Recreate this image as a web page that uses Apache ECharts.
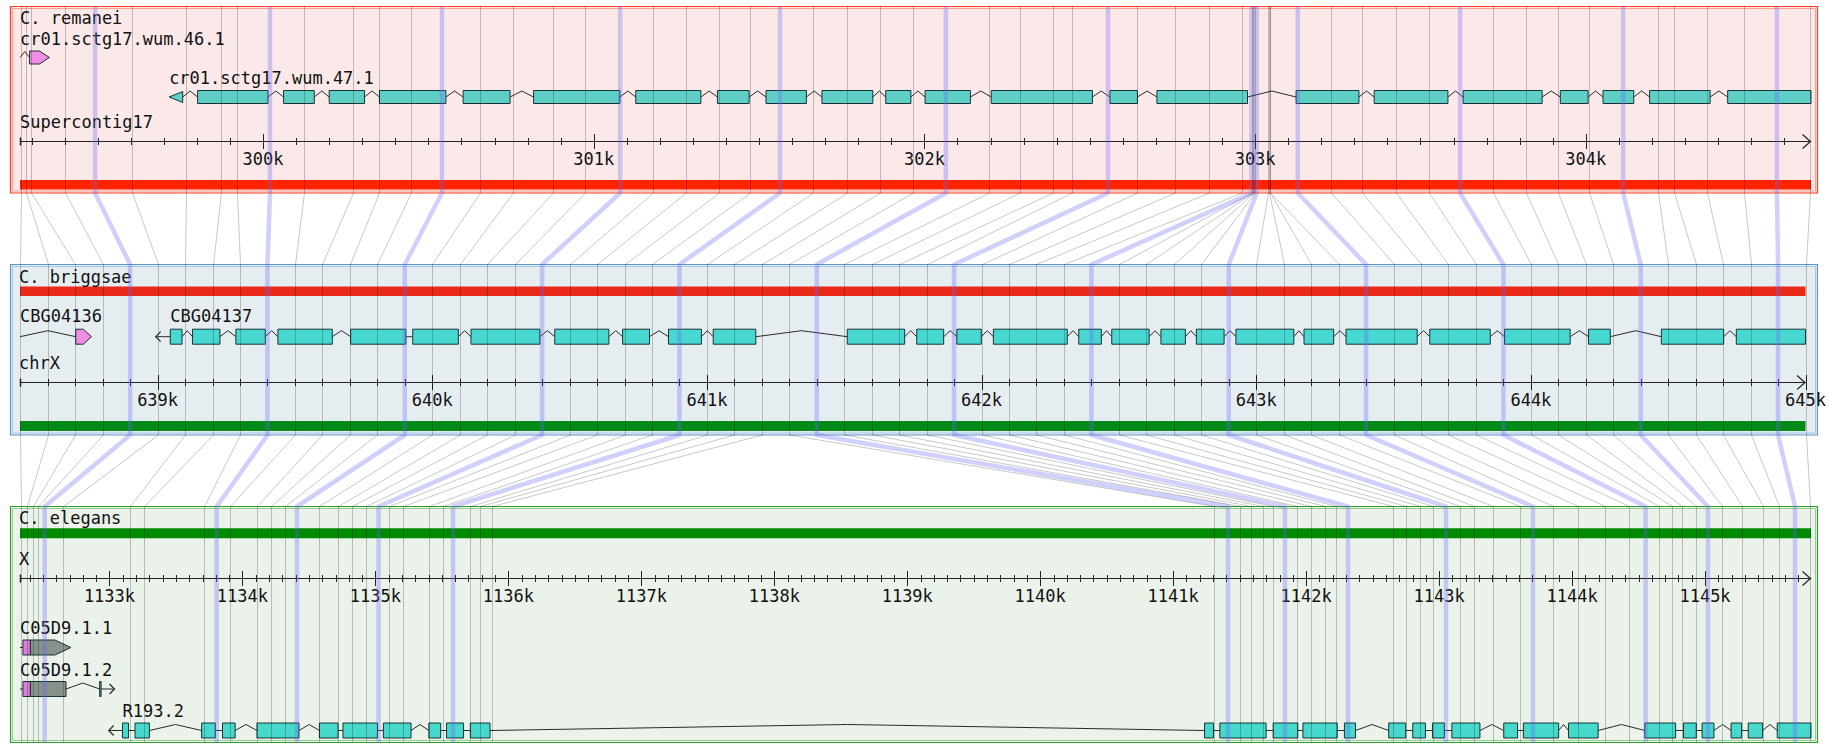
<!DOCTYPE html>
<html><head><meta charset="utf-8">
<script src="https://cdn.jsdelivr.net/npm/echarts@6/dist/echarts.min.js"></script>
<style>html,body{margin:0;padding:0;background:#fff}#c{width:1829px;height:745px}</style>
</head><body><div id="c"></div>
<script>
// ================= DATA =================
// C. remanei – Supercontig17
const remaneiRange = [299265, 304681];
const remaneiTicks = [300000, 301000, 302000, 303000, 304000];
const remaneiTickLabels = ['300k', '301k', '302k', '303k', '304k'];
const remGene46Name = 'cr01.sctg17.wum.46.1';
const remGene46Lead = [299265, 299294];
const remGene46Exons = [[299294, 299354]];
const remGene47Name = 'cr01.sctg17.wum.47.1';
const remGene47Arrow = [299716, 299757];
const remGene47Exons = [[299802,300015],[300062,300155],[300200,300307],[300352,300553],[300605,300747],[300818,301079],[301127,301324],[301374,301470],[301521,301643],[301690,301844],[301883,301959],[302002,302139],[302202,302508],[302561,302644],[302703,302977],[303124,303314],[303360,303583],[303629,303868],[303923,304007],[304052,304145],[304193,304376],[304429,304681]];

// C. briggsae – chrX
const briggsaeRange = [638499, 645000];
const briggsaeTicks = [639000, 640000, 641000, 642000, 643000, 644000, 645000];
const briggsaeTickLabels = ['639k', '640k', '641k', '642k', '643k', '644k', '645k'];
const cbg04136Name = 'CBG04136';
const cbg04136Lead = [638499, 638702];
const cbg04136Exons = [[638702, 638759]];
const cbg04137Name = 'CBG04137';
const cbg04137Arrow = [638993, 639046];
const cbg04137Exons = [[639046,639089],[639127,639227],[639285,639392],[639438,639636],[639703,639904],[639929,640095],[640141,640392],[640446,640643],[640693,640791],[640860,640980],[641023,641178],[641511,641720],[641764,641862],[641910,641999],[642043,642312],[642354,642436],[642474,642610],[642653,642742],[642782,642883],[642926,643137],[643174,643282],[643327,643586],[643632,643852],[643904,644143],[644210,644289],[644475,644702],[644748,645000]];

// C. elegans – X
const elegansRange = [1132327, 1145797];
const elegansTicks = [1133000,1134000,1135000,1136000,1137000,1138000,1139000,1140000,1141000,1142000,1143000,1144000,1145000];
const elegansTickLabels = ['1133k','1134k','1135k','1136k','1137k','1138k','1139k','1140k','1141k','1142k','1143k','1144k','1145k'];
const c05d911Name = 'C05D9.1.1';
const c05d911Lead = [1132327, 1132349];
const c05d911Exons = [[1132349, 1132405], [1132405, 1132710]];
const c05d912Name = 'C05D9.1.2';
const c05d912Lead = [1132327, 1132349];
const c05d912Exons = [[1132349, 1132405], [1132405, 1132673], [1132926, 1132937]];
const c05d912Arrow = [1132937, 1133038];
const r1932Name = 'R193.2';
const r1932Arrow = [1132994, 1133098];
const r1932Exons = [[1133098,1133143],[1133192,1133300],[1133693,1133796],[1133850,1133945],[1134109,1134425],[1134579,1134719],[1134756,1135016],[1135060,1135268],[1135402,1135491],[1135535,1135663],[1135714,1135862],[1141236,1141303],[1141351,1141699],[1141752,1141937],[1141976,1142234],[1142288,1142371],[1142621,1142749],[1142802,1142897],[1142950,1143040],[1143096,1143307],[1143486,1143590],[1143634,1143899],[1143973,1144196],[1144547,1144779],[1144838,1144934],[1144978,1145067],[1145196,1145275],[1145325,1145433],[1145543,1145797]];

// alignment anchors (briggsae position -> remanei / elegans positions)
const anchorBriggsae = [638500,638600,638700,638800,638900,639000,639100,639200,639300,639400,639500,639600,639700,639800,639900,640000,640100,640200,640300,640400,640500,640600,640700,640800,640900,641000,641100,641200,641300,641400,641500,641600,641700,641800,641900,642000,642100,642200,642300,642400,642500,642600,642700,642800,642900,643000,643100,643200,643300,643400,643500,643600,643700,643800,643900,644000,644100,644200,644300,644400,644500,644600,644700,644800,644900,645000];
const anchorRemanei = [299267,299283,299298,299401,299492,299603,299767,299872,299921,300021,300123,300271,300350,300448,300541,300656,300756,300877,300974,301080,301179,301279,301378,301473,301563,301663,301766,301866,301966,302065,302194,302289,302388,302446,302555,302643,302758,302861,302959,302989,302992,302995,302998,303001,303005,303039,303042,303044,303045,303129,303228,303323,303426,303525,303620,303718,303819,303915,304011,304113,304218,304266,304367,304477,304578,304678];
const anchorElegans = [1132331,1132380,1132425,1132465,1132513,1132652,1133157,1133262,1133708,1133806,1133906,1134109,1134215,1134320,1134410,1134576,1134719,1134822,1134926,1135024,1135102,1135207,1135403,1135506,1135584,1135711,1135787,1135877,1141307,1141412,1141500,1141589,1141679,1141751,1141841,1141931,1142035,1142139,1142228,1142315,1142650,1142748,1142853,1142954,1143052,1143156,1143262,1143402,1143608,1143706,1143857,1144042,1144248,1144428,1144553,1144651,1144749,1144827,1144932,1145022,1145128,1145278,1145433,1145556,1145677,1145790];
const anchorThick = [638900,639400,639900,640400,640900,641400,641900,642400,642900,643400,643900,644400,644900];

// ================= LAYOUT / STYLE =================
const MONO = "'DejaVu Sans Mono','Liberation Mono',monospace";
const FS = 17;
const PANELS = [
  {x:10.5, y:6.5,   w:1807, h:186.5, fill:'#fbe9e9', stroke:'#ff3c1e', inner:'#ffa090'},
  {x:10.5, y:264.5, w:1807, h:170.5, fill:'#e6edf1', stroke:'#5b96cf', inner:'#aac8e4'},
  {x:10.5, y:506.5, w:1807, h:236,   fill:'#ebf2ea', stroke:'#2e9e2e', inner:'#93cf93'}
];
const AXIS_Y = [141.5, 382.5, 578.5];
const EXON_STROKE = '#163535';
const INTRON = '#2a2a2a';

const chart = echarts.init(document.getElementById('c'), null, {renderer:'svg', width:1829, height:745});

function xAxisFor(gi, range, ticks, labels) {
  return {
    type:'value', gridIndex:gi, min:range[0], max:range[1], position:'bottom',
    axisLine:{show:false}, axisTick:{show:false}, splitLine:{show:false},
    axisLabel:{show:true, customValues:ticks, formatter:(v)=>{const k=ticks.indexOf(v);return k>=0?labels[k]:'';},
      margin:9, color:'#111', fontFamily:MONO, fontSize:FS, showMinLabel:true, showMaxLabel:true}
  };
}
function yAxisFor(gi){ return {type:'value', gridIndex:gi, min:0, max:1, show:false}; }

function intronEl(xa, xb, cy) {
  if (xb - xa < 9) return {type:'line', shape:{x1:xa,y1:cy,x2:xb,y2:cy}, style:{stroke:INTRON,lineWidth:1}};
  const m = (xa + xb) / 2;
  return {type:'polyline', shape:{points:[[xa,cy],[m,cy-6],[xb,cy]]}, style:{stroke:INTRON,lineWidth:1,fill:null}};
}
function openArrow(a, b, cy, dir) {
  const head = dir === 'left' ? [[a+5,cy-5],[a,cy],[a+5,cy+5]] : [[b-5,cy-5],[b,cy],[b-5,cy+5]];
  return {type:'group', children:[
    {type:'line', shape:{x1:a,y1:cy,x2:b,y2:cy}, style:{stroke:INTRON,lineWidth:1}},
    {type:'polyline', shape:{points:head}, style:{stroke:INTRON,lineWidth:1.2,fill:null}}
  ]};
}

function geneSeries(gi, g) {
  const n = g.exons.length;
  return {
    type:'custom', coordinateSystem:'cartesian2d', xAxisIndex:gi, yAxisIndex:gi,
    z:4, silent:true, animation:false, clip:false,
    data: g.exons.map(e => [e[0], 0, e[1]]),
    encode:{x:[0,2], y:1},
    renderItem(params, api) {
      const i = params.dataIndex;
      const X = v => api.coord([v, 0])[0];
      const x1 = X(api.value(0)), x2 = X(api.value(2));
      const cy = g.cy, h = g.h, top = cy - h/2;
      const fill = g.fills ? g.fills[i] : g.fill;
      const kids = [];
      if (i < n-1) kids.push(intronEl(x2, X(g.exons[i+1][0]), cy));
      if (i === 0) {
        if (g.lead) kids.push(intronEl(X(g.lead[0]), X(g.lead[1]), cy));
        if (g.arrowStart) {
          const a = X(g.arrowStart[0]), b = X(g.arrowStart[1]);
          if (g.arrowFilled) {
            kids.push(intronEl(b, x1, cy));
            kids.push({type:'polygon', shape:{points:[[a,cy],[b,cy-5.5],[b,cy+5.5]]}, style:{fill, stroke:EXON_STROKE, lineWidth:1}});
          } else kids.push(openArrow(a, b, cy, 'left'));
        }
      }
      if (i === n-1 && g.arrowEnd) kids.push(openArrow(X(g.arrowEnd[0]), X(g.arrowEnd[1]), cy, 'right'));
      if (g.taper && i === n-1) {
        const t = Math.max(x1, x2 - g.taper);
        kids.push({type:'polygon', shape:{points:[[x1,top],[t,top],[x2,cy],[t,top+h],[x1,top+h]]}, style:{fill, stroke:EXON_STROKE, lineWidth:1}});
      } else {
        kids.push({type:'rect', shape:{x:x1, y:top, width:Math.max(x2-x1,1), height:h}, style:{fill, stroke:EXON_STROKE, lineWidth:1}});
      }
      if (i === 0 && g.name) {
        const la = g.arrowFilled ? g.arrowStart[0] : (g.lead ? g.lead[0] : g.exons[0][0]);
        kids.push({type:'text', style:{text:g.name, x:X(la), y:g.labelY, fill:'#111', fontSize:FS, fontFamily:MONO, align:'left', verticalAlign:'middle'}});
      }
      return {type:'group', children:kids};
    }
  };
}

function rulerSeries(gi, range, majors, axY) {
  const ticks = [];
  for (let v = Math.ceil(range[0]/100)*100; v <= range[1]; v += 100) ticks.push(v);
  return {
    type:'custom', coordinateSystem:'cartesian2d', xAxisIndex:gi, yAxisIndex:gi,
    z:3, silent:true, animation:false, clip:false,
    data: ticks.map(v => [v, 0]),
    renderItem(params, api) {
      const v = api.value(0);
      const x = Math.round(api.coord([v, 0])[0]) + 0.5;
      const L = majors.includes(v) ? 7.5 : 3.5;
      return {type:'line', shape:{x1:x,y1:axY-L,x2:x,y2:axY+L}, style:{stroke:'#222', lineWidth:1}};
    }
  };
}
function axisLineSeries(gi, range, axY) {
  return {
    type:'custom', coordinateSystem:'cartesian2d', xAxisIndex:gi, yAxisIndex:gi,
    z:3, silent:true, animation:false, clip:false,
    data:[[range[0], 0, range[1]]], encode:{x:[0,2], y:1},
    renderItem(params, api) {
      const a = api.coord([api.value(0),0])[0], b = api.coord([api.value(2),0])[0] - 0.5;
      return {type:'group', children:[
        {type:'line', shape:{x1:a,y1:axY,x2:b,y2:axY}, style:{stroke:'#222',lineWidth:1.2}},
        {type:'line', shape:{x1:a+0.5,y1:axY-4,x2:a+0.5,y2:axY+4}, style:{stroke:'#222',lineWidth:1.5}},
        {type:'polyline', shape:{points:[[b-8,axY-7],[b,axY],[b-8,axY+7]]}, style:{stroke:'#222',lineWidth:1.2,fill:null}}
      ]};
    }
  };
}
function barSeries(gi, range, cy, h, color) {
  return {
    type:'custom', coordinateSystem:'cartesian2d', xAxisIndex:gi, yAxisIndex:gi,
    z:3, silent:true, animation:false, clip:false,
    data:[[range[0], 0, range[1]]], encode:{x:[0,2], y:1},
    renderItem(params, api) {
      const a = api.coord([api.value(0),0])[0], b = api.coord([api.value(2),0])[0];
      return {type:'rect', shape:{x:a, y:cy-h/2, width:b-a, height:h}, style:{fill:color}};
    }
  };
}

const panelLabels = [
  {text:'C. remanei', x:20, y:17.5}, {text:'Supercontig17', x:20, y:121.5},
  {text:'C. briggsae', x:19, y:276.5}, {text:'chrX', x:19, y:362.5},
  {text:'C. elegans', x:19, y:517.5}, {text:'X', x:19, y:559}
];

const graphic = [];
PANELS.forEach(p => {
  graphic.push({type:'rect', z:0, silent:true, shape:{x:p.x,y:p.y,width:p.w,height:p.h}, style:{fill:p.fill, stroke:p.stroke, lineWidth:1.2}});
  graphic.push({type:'rect', z:0, silent:true, shape:{x:p.x+2,y:p.y+2,width:p.w-4,height:p.h-4}, style:{fill:null, stroke:p.inner, lineWidth:1}});
});
panelLabels.forEach(l => graphic.push({type:'text', z:5, silent:true, style:{text:l.text, x:l.x, y:l.y, fill:'#111', fontSize:FS, fontFamily:MONO, verticalAlign:'middle', align:'left'}}));

const series = [
  barSeries(0, remaneiRange, 184.7, 9.5, '#ff2300'),
  barSeries(1, briggsaeRange, 291.2, 9.5, '#e92a18'),
  barSeries(1, briggsaeRange, 426, 10, '#048a18'),
  barSeries(2, elegansRange, 533.3, 10, '#008a00'),
  axisLineSeries(0, remaneiRange, AXIS_Y[0]), rulerSeries(0, remaneiRange, remaneiTicks, AXIS_Y[0]),
  axisLineSeries(1, briggsaeRange, AXIS_Y[1]), rulerSeries(1, briggsaeRange, briggsaeTicks, AXIS_Y[1]),
  axisLineSeries(2, elegansRange, AXIS_Y[2]), rulerSeries(2, elegansRange, elegansTicks, AXIS_Y[2]),
  geneSeries(0, {name:remGene46Name, exons:remGene46Exons, lead:remGene46Lead, cy:57.5, h:13, fill:'#ee8de3', taper:10, labelY:38.5}),
  geneSeries(0, {name:remGene47Name, exons:remGene47Exons, arrowStart:remGene47Arrow, arrowFilled:true, cy:97, h:13, fill:'#5fcfc6', labelY:77.5}),
  geneSeries(1, {name:cbg04136Name, exons:cbg04136Exons, lead:cbg04136Lead, cy:336.7, h:15, fill:'#ee8de3', taper:8, labelY:315.5}),
  geneSeries(1, {name:cbg04137Name, exons:cbg04137Exons, arrowStart:cbg04137Arrow, cy:336.7, h:15, fill:'#47d9d1', labelY:315.5}),
  geneSeries(2, {name:c05d911Name, exons:c05d911Exons, lead:c05d911Lead, cy:647.5, h:15, fills:['#de7fdc','#87938a'], taper:16, labelY:627.5}),
  geneSeries(2, {name:c05d912Name, exons:c05d912Exons, lead:c05d912Lead, arrowEnd:c05d912Arrow, cy:689, h:15, fills:['#de7fdc','#87938a','#87938a'], labelY:669.5}),
  geneSeries(2, {name:r1932Name, exons:r1932Exons, arrowStart:r1932Arrow, cy:730.5, h:15, fill:'#46d8cb', labelY:710.5})
];

const option = {
  backgroundColor:'#ffffff',
  animation:false,
  grid:[
    {left:20, right:18, top:6.5, height:135},
    {left:20, right:18, top:264.5, height:118},
    {left:20, right:18, top:506.5, height:72}
  ],
  xAxis:[
    xAxisFor(0, remaneiRange, remaneiTicks, remaneiTickLabels),
    xAxisFor(1, briggsaeRange, briggsaeTicks, briggsaeTickLabels),
    xAxisFor(2, elegansRange, elegansTicks, elegansTickLabels)
  ],
  yAxis:[yAxisFor(0), yAxisFor(1), yAxisFor(2)],
  graphic: graphic,
  series: series
};
chart.setOption(option);

// second pass: alignment lines through the three axes' scales
const xT = anchorRemanei.map(v => chart.convertToPixel({xAxisIndex:0}, v));
const xM = anchorBriggsae.map(v => chart.convertToPixel({xAxisIndex:1}, v));
const xB = anchorElegans.map(v => chart.convertToPixel({xAxisIndex:2}, v));
const P = PANELS.map(p => [p.y, p.y + p.h]);
option.series = series.concat([{
  type:'custom', coordinateSystem:'none', z:6, silent:true, animation:false,
  data: anchorBriggsae.map((v, i) => [i]),
  renderItem(params) {
    const i = params.dataIndex;
    const thick = anchorThick.includes(anchorBriggsae[i]);
    const r = x => thick ? x : Math.round(x) + 0.5;
    const t = r(xT[i]), m = r(xM[i]), b = r(xB[i]);
    return {type:'polyline', shape:{points:[[t,P[0][0]],[t,P[0][1]],[m,P[1][0]],[m,P[1][1]],[b,P[2][0]],[b,P[2][1]]]},
      style:{stroke: thick ? 'rgba(100,100,245,0.3)' : 'rgba(0,0,0,0.22)', lineWidth: thick ? 4.5 : 1, fill:null, lineJoin:'round'}};
  }
}]);
chart.setOption(option, true);
</script>
</body></html>
